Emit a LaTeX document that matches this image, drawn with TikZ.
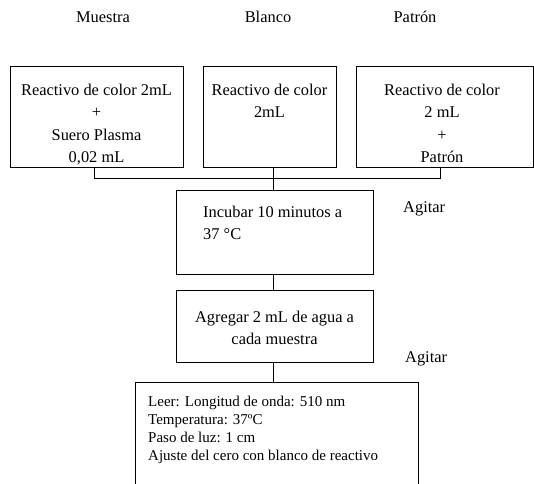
\documentclass[tikz,border=0pt]{standalone}
\usepackage{fontspec}
\setmainfont{Liberation Serif}
\begin{document}
\begin{tikzpicture}[x=1pt,y=-1pt,
  box/.style={draw, line width=0.8pt, inner sep=0, anchor=north west},
  txt/.style={inner sep=0, anchor=base, font=\fontsize{16.4}{20}\selectfont},
  txtl/.style={inner sep=0, anchor=base west, font=\fontsize{16.4}{20}\selectfont},
  small/.style={inner sep=0, anchor=base west, font=\fontsize{15}{18}\selectfont},
  conn/.style={line width=0.8pt}]
\useasboundingbox (0,0) rectangle (534,483);
\clip (0,0) rectangle (534,483);
% column titles
\node[txt] (t1) at (103,22) {Muestra};
\node[txt] (t2) at (268,22) {Blanco};
\node[txt] (t3) at (415,22) {Patrón};
% boxes
\node[box, minimum width=173pt, minimum height=101pt] (b1) at (10,66) {};
\node[box, minimum width=133pt, minimum height=101pt] (b2) at (203,66) {};
\node[box, minimum width=177pt, minimum height=101pt] (b3) at (356,66) {};
\node[box, minimum width=197pt, minimum height=84pt] (b4) at (176,190) {};
\node[box, minimum width=197pt, minimum height=72pt] (b5) at (176,290) {};
\node[box, minimum width=283pt, minimum height=130pt] (b6) at (135,382) {};
% box texts
\node[txt] (b1a) at (96.5,95.5) {Reactivo de color 2mL};
\node[txt] (b1b) at (96.5,117.8) {+};
\node[txt] (b1c) at (96.5,140.1) {Suero Plasma};
\node[txt] (b1d) at (96.5,162.4) {0,02 mL};
\node[txt] (b2a) at (269.5,95) {Reactivo de color};
\node[txt] (b2b) at (269.5,117.3) {2mL};
\node[txt] (b3a) at (442,95.5) {Reactivo de color};
\node[txt] (b3b) at (442,117.8) {2 mL};
\node[txt] (b3c) at (442,140.1) {+};
\node[txt] (b3d) at (442,162.4) {Patrón};
\node[txtl] (b4a) at (203,217) {Incubar 10 minutos a};
\node[txtl] (b4b) at (203,239) {37 °C};
\node[txt] (b5a) at (274.5,322) {Agregar 2 mL de agua a};
\node[txt] (b5b) at (274.5,344) {cada muestra};
\node[small] (b6a) at (148,406) {Leer: Longitud de onda: 510 nm};
\node[small] (b6b) at (148,424) {Temperatura: 37ºC};
\node[small] (b6c) at (148,442) {Paso de luz: 1 cm};
\node[small] (b6d) at (148,460) {Ajuste del cero con blanco de reactivo};
% side labels
\node[txtl] (ag1) at (403,212) {Agitar};
\node[txtl] (ag2) at (405,362) {Agitar};
% connectors
\coordinate (ja) at (94,178);
\coordinate (j) at (273,178);
\coordinate (jc) at (440,178);
\draw[conn] (b1.south -| ja) -- (ja) -- (jc) -- (b3.south -| jc);
\draw[conn] (b2.south -| j) -- (b4.north -| j);
\draw[conn] (b4.south -| j) -- (b5.north -| j);
\draw[conn] (b5.south -| j) -- (b6.north -| j);
\end{tikzpicture}
\end{document}
